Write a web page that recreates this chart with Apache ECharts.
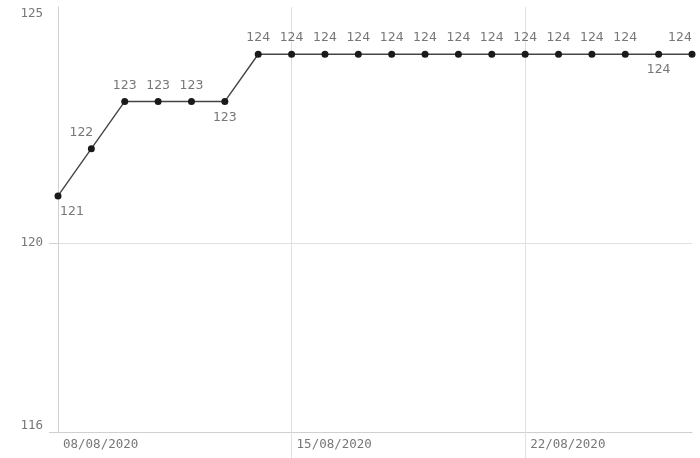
<!DOCTYPE html>
<html>
<head>
<meta charset="utf-8">
<script src="https://cdn.jsdelivr.net/npm/echarts@6/dist/echarts.min.js"></script>
<style>html,body{margin:0;padding:0;background:#fff}#c{width:700px;height:458px}</style>
</head>
<body>
<div id="c"></div>
<script>
var categories = ['08/08/2020','09/08/2020','10/08/2020','11/08/2020','12/08/2020','13/08/2020','14/08/2020','15/08/2020','16/08/2020','17/08/2020','18/08/2020','19/08/2020','20/08/2020','21/08/2020','22/08/2020','23/08/2020','24/08/2020','25/08/2020','26/08/2020','27/08/2020'];
var values = [121,122,123,123,123,123,124,124,124,124,124,124,124,124,124,124,124,124,124,124];
var yTickLabels = [116,120,125];
var labelBelow = [0,5,18];

var labelShift = {0:[14,0],1:[-10,0],19:[-12,0]};
var data = values.map(function(v,i){
  var item = {value:v};
  var below = labelBelow.indexOf(i) >= 0;
  item.label = {position: below ? 'bottom' : 'top'};
  if (labelShift[i]) item.label.offset = labelShift[i];
  return item;
});

var chart = echarts.init(document.getElementById('c'));
chart.setOption({
  animation:false,
  grid:{left:58,right:8,top:7,bottom:26},
  xAxis:{
    type:'category',
    data:categories,
    boundaryGap:false,
    axisLine:{show:true,lineStyle:{color:'#d0d0d0',width:1}},
    axisTick:{show:true,length:26,interval:function(i){return i===7||i===14;},lineStyle:{color:'#e0e0e0'}},
    axisLabel:{interval:6,align:'left',padding:[0,0,0,5],margin:6,color:'#777',fontFamily:'DejaVu Sans Mono',fontSize:12.5},
    splitLine:{show:true,interval:function(i){return i===7||i===14;},lineStyle:{color:'#e0e0e0'}}
  },
  yAxis:{
    type:'value',
    min:116,max:125,
    axisLine:{show:true,lineStyle:{color:'#d0d0d0',width:1}},
    axisTick:{show:true,length:9,customValues:[116,120],lineStyle:{color:'#d0d0d0'}},
    axisLabel:{customValues:yTickLabels,margin:15,color:'#777',fontFamily:'DejaVu Sans Mono',fontSize:12.5,
      verticalAlignMinLabel:'bottom',verticalAlignMaxLabel:'top'},
    splitLine:{show:true,lineStyle:{color:'#e0e0e0'}}
  },
  series:[{
    type:'line',
    data:data,
    symbol:'circle',
    symbolSize:7,
    itemStyle:{color:'#1a1a1a'},
    lineStyle:{color:'#444',width:1.4},
    label:{show:true,color:'#777',fontFamily:'DejaVu Sans',fontSize:12.5,distance:6}
  }]
});
</script>
</body>
</html>
